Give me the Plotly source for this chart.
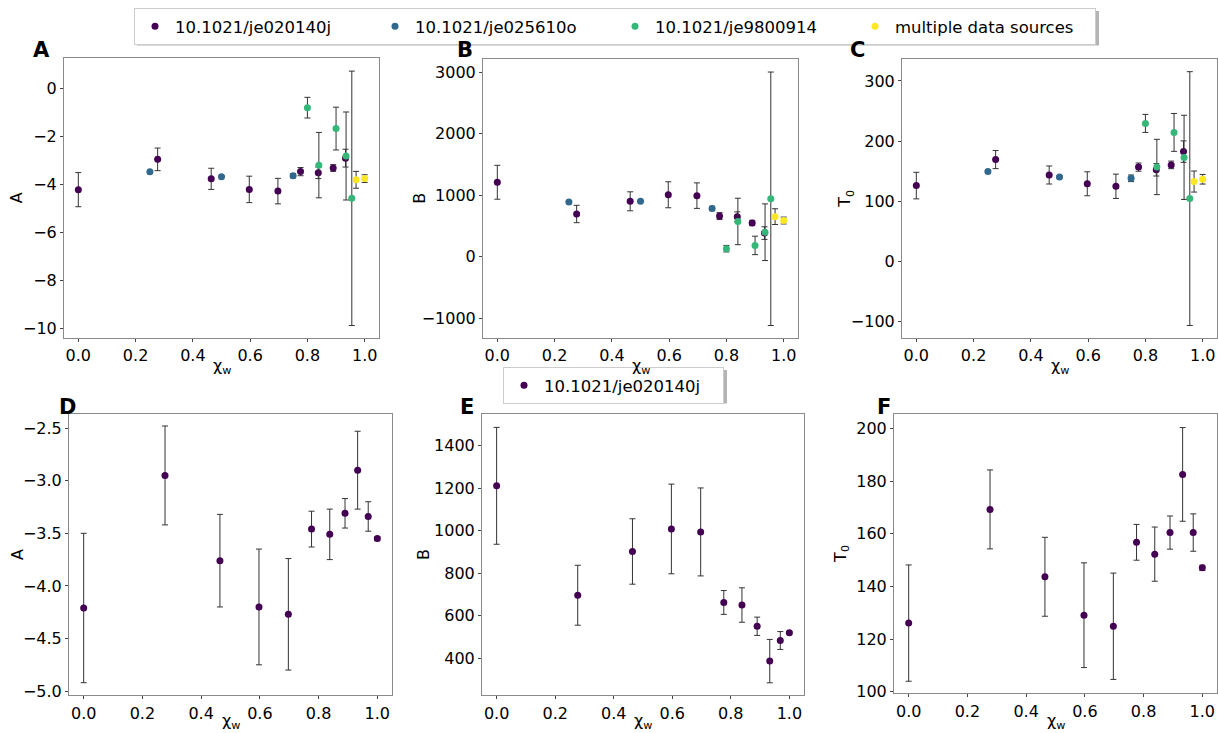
import plotly.graph_objects as go

# --- data -----------------------------------------------------------------
# 10.1021/je020140j
x_je020140j = [0.0, 0.277, 0.464, 0.597, 0.697, 0.776, 0.838, 0.890, 0.933, 0.969, 1.0]
A_je020140j = [-4.21, -2.95, -3.76, -4.20, -4.27, -3.46, -3.51, -3.31, -2.90, -3.34, -3.55]
A_err_je020140j = [0.71, 0.47, 0.44, 0.55, 0.53, 0.17, 0.24, 0.14, 0.37, 0.14, 0.02]
B_je020140j = [1211, 696, 902, 1008, 994, 662, 650, 550, 386, 483, 520]
B_err_je020140j = [275, 141, 154, 211, 207, 56, 81, 43, 102, 42, 5]
T0_je020140j = [126.1, 169.3, 143.7, 129.1, 124.9, 156.8, 152.3, 160.5, 182.6, 160.5, 147.1]
T0_err_je020140j = [22.1, 15.0, 15.0, 19.9, 20.2, 6.8, 10.3, 6.3, 17.8, 7.1, 1.0]
n_top_je020140j = 9  # points shown with the other sources in the top row

# 10.1021/je025610o
x_je025610o = [0.25, 0.50, 0.75]
A_je025610o = [-3.47, -3.67, -3.63]
A_err_je025610o = [0.03, 0.03, 0.09]
B_je025610o = [892, 903, 786]
B_err_je025610o = [15, 10, 35]
T0_je025610o = [149.5, 140.4, 138.2]
T0_err_je025610o = [2.0, 2.0, 5.5]

# 10.1021/je9800914
x_je9800914 = [0.80, 0.84, 0.90, 0.935, 0.955]
A_je9800914 = [-0.80, -3.19, -1.67, -2.81, -4.57]
A_err_je9800914 = [0.43, 1.36, 0.89, 1.83, 5.29]
B_je9800914 = [133, 575, 186, 400, 943]
B_err_je9800914 = [53, 377, 150, 460, 2057]
T0_je9800914 = [229.5, 157.0, 214.5, 173.0, 104.5]
T0_err_je9800914 = [15.0, 46.0, 31.5, 70.0, 211.0]

# multiple data sources
x_multi = [0.97, 1.0]
A_multi = [-3.80, -3.75]
A_err_multi = [0.35, 0.16]
B_multi = [653, 590]
B_err_multi = [128, 56]
T0_multi = [132.8, 136.6]
T0_err_multi = [17.5, 8.0]

source_names = ["10.1021/je020140j", "10.1021/je025610o", "10.1021/je9800914",
                "multiple data sources"]
source_colors = ["#440154", "#31688e", "#35b779", "#fde725"]

# --- styling --------------------------------------------------------------
W, H = 1218, 733
FONT = "DejaVu Sans"
ERR_COLOR = "#333333"
FRAME = "#8a8a8a"


def dom_x(a, b):
    return [a / W, b / W]


def dom_y(top, bottom):
    return [1 - bottom / H, 1 - top / H]


fig = go.Figure()


def add_points(ax, x, y, err, name, color, showlegend=False, legend="legend"):
    fig.add_trace(go.Scatter(
        x=x, y=y, mode="markers", name=name,
        marker=dict(color=color, size=7),
        error_y=dict(type="data", array=err, visible=True, color=ERR_COLOR,
                     thickness=1, width=3),
        xaxis="x" + ("" if ax == 1 else str(ax)),
        yaxis="y" + ("" if ax == 1 else str(ax)),
        showlegend=showlegend, legend=legend,
    ))


# top row: all sources
top_panels = [
    (1, [A_je020140j, A_je025610o, A_je9800914, A_multi],
        [A_err_je020140j, A_err_je025610o, A_err_je9800914, A_err_multi]),
    (2, [B_je020140j, B_je025610o, B_je9800914, B_multi],
        [B_err_je020140j, B_err_je025610o, B_err_je9800914, B_err_multi]),
    (3, [T0_je020140j, T0_je025610o, T0_je9800914, T0_multi],
        [T0_err_je020140j, T0_err_je025610o, T0_err_je9800914, T0_err_multi]),
]
xs = [x_je020140j[:n_top_je020140j], x_je025610o, x_je9800914, x_multi]
for ax, ys, es in top_panels:
    for i in range(4):
        y = ys[i][:n_top_je020140j] if i == 0 else ys[i]
        e = es[i][:n_top_je020140j] if i == 0 else es[i]
        add_points(ax, xs[i], y, e, source_names[i], source_colors[i],
                   showlegend=(ax == 1))

# bottom row: single source
add_points(4, x_je020140j, A_je020140j, A_err_je020140j, source_names[0], source_colors[0])
add_points(5, x_je020140j, B_je020140j, B_err_je020140j, source_names[0], source_colors[0],
           showlegend=True, legend="legend2")
add_points(6, x_je020140j, T0_je020140j, T0_err_je020140j, source_names[0], source_colors[0])

# --- axes -----------------------------------------------------------------
panel_boxes = {
    1: (64, 379, 59, 342),
    2: (483, 798, 60, 342),
    3: (902, 1217, 60, 342),
    4: (69, 392, 419, 703),
    5: (482, 804, 419, 703),
    6: (894, 1217, 419, 701),
}
y_ranges = {1: [-10.39, 1.25], 2: [-1321, 3206], 3: [-127.8, 336],
            4: [-5.04, -2.37], 5: [225, 1547], 6: [99.4, 205.4]}
y_dticks = {1: 2, 2: 1000, 3: 100, 4: 0.5, 5: 200, 6: 20}
y_formats = {1: "d", 2: "d", 3: "d", 4: ".1f", 5: "d", 6: "d"}
y_titles = {1: "A", 2: "B", 3: "T<sub>0</sub>", 4: "A", 5: "B", 6: "T<sub>0</sub>"}
# axis-title anchor points (px): x-title centre y, y-title centre x
x_title_y = {1: 371, 2: 371, 3: 371, 4: 729, 5: 729, 6: 729}
y_title_x = {1: 16, 2: 420, 3: 846, 4: 18, 5: 424, 6: 842}

common = dict(showline=True, linecolor=FRAME, linewidth=1, mirror=True,
              ticks="outside", ticklen=3, tickwidth=1, tickcolor="#444",
              showgrid=False, zeroline=False,
              tickfont=dict(family=FONT, size=16, color="#000"))

title_font = dict(family=FONT, size=16, color="#000")

for ax, (x0, x1, y0, y1) in panel_boxes.items():
    sfx = "" if ax == 1 else str(ax)
    fig.update_layout({
        "xaxis" + sfx: dict(
            common, domain=dom_x(x0, x1), anchor="y" + sfx, range=[-0.05, 1.05],
            tick0=0, dtick=0.2, tickformat=".1f"),
        "yaxis" + sfx: dict(
            common, domain=dom_y(y0, y1), anchor="x" + sfx, range=y_ranges[ax],
            dtick=y_dticks[ax], tickformat=y_formats[ax]),
    })
    fig.add_annotation(text="χ<sub>w</sub>", xref="paper", yref="paper",
                       x=(x0 + x1) / 2 / W, y=1 - x_title_y[ax] / H,
                       xanchor="center", yanchor="middle", showarrow=False,
                       font=title_font)
    fig.add_annotation(text=y_titles[ax], xref="paper", yref="paper",
                       x=y_title_x[ax] / W, y=1 - (y0 + y1) / 2 / H, textangle=-90,
                       xanchor="center", yanchor="middle", showarrow=False,
                       font=title_font)

# panel letters
letters = [("A", 31, 51), ("B", 455, 51), ("C", 848, 51),
           ("D", 57, 411), ("E", 458, 411), ("F", 875, 411)]
for txt, px, py in letters:
    fig.add_annotation(text="<b>" + txt + "</b>", xref="paper", yref="paper",
                       x=px / W, y=1 - py / H, xanchor="left", yanchor="middle",
                       showarrow=False, font=dict(family=FONT, size=21, color="#000"))

# legend shadows
for (lx0, lx1, ly0, ly1) in [(134, 1096, 8, 43), (503, 724, 371, 405)]:
    fig.add_shape(type="rect", xref="paper", yref="paper",
                  x0=(lx0 + 3) / W, x1=(lx1 + 3) / W,
                  y0=1 - (ly1 + 3) / H, y1=1 - (ly0 + 3) / H,
                  fillcolor="#b4b4b4", line=dict(width=0), layer="above")

legend_style = dict(orientation="h", bgcolor="white", bordercolor="#cccccc",
                    borderwidth=1, font=dict(family=FONT, size=16.5, color="#000"),
                    xanchor="left", yanchor="top", itemsizing="trace",
                    itemwidth=30)

fig.update_layout(
    width=W, height=H,
    margin=dict(l=0, r=0, t=0, b=0),
    paper_bgcolor="white", plot_bgcolor="white",
    font=dict(family=FONT, size=16, color="#000"),
    legend=dict(legend_style, x=134 / W, y=1 - 8 / H, entrywidth=195),
    legend2=dict(legend_style, x=503 / W, y=1 - 371 / H, entrywidth=174),
)

fig.write_html("out.html")
